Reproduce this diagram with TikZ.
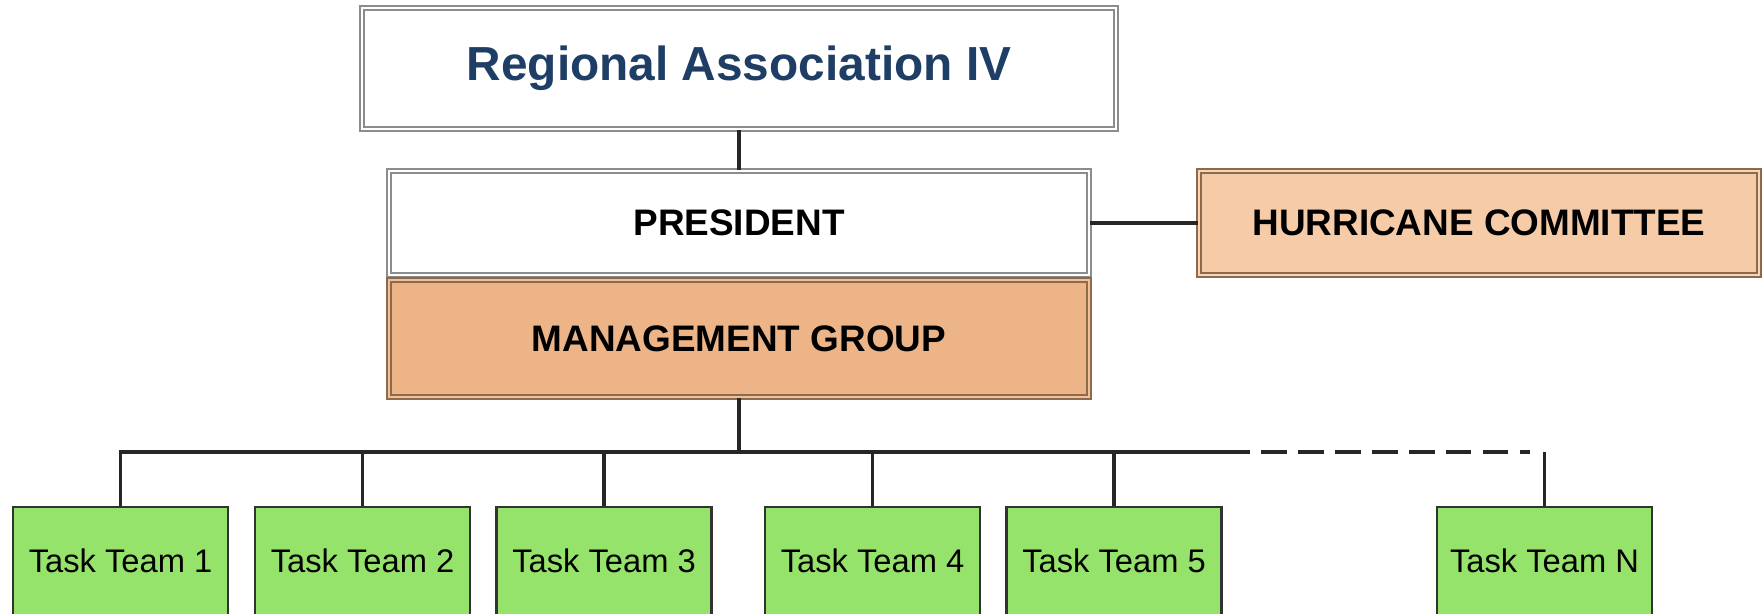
\documentclass[tikz,border=0pt]{standalone}
\usepackage{fontspec}
\setmainfont{Liberation Sans}
\definecolor{ratext}{HTML}{1F3E66}
\definecolor{greyline}{HTML}{8C8C8C}
\definecolor{brownline}{HTML}{8E6A4C}
\definecolor{mgfill}{HTML}{EDB587}
\definecolor{hcfill}{HTML}{F6CBA7}
\definecolor{ttfill}{HTML}{95E36B}

\begin{document}
\begin{tikzpicture}[
  dbl/.style={draw=#1, line width=1.1pt, double distance=1.5pt, inner sep=0pt},
  whitebox/.style={dbl=greyline, double=white, fill=white},
  mgbox/.style={dbl=brownline, double=mgfill!85, fill=mgfill},
  hcbox/.style={dbl=brownline, double=hcfill!80, fill=hcfill},
  ttbox/.style={draw=black!80, line width=1.3pt, fill=ttfill, minimum width=4.3cm,
    minimum height=2.16cm, inner sep=0pt, font=\fontsize{18.6}{20}\selectfont},
  link/.style={line width=1.8pt, black!85},
  caps/.style={font=\fontsize{21}{24}\selectfont\bfseries}
]
\useasboundingbox (0,0) rectangle (35.24,12.28);
% upper part of the chart
\node[whitebox, minimum width=15.08cm, minimum height=2.42cm, text=ratext,
  font=\fontsize{27.2}{30}\selectfont\bfseries] (ra) at (14.78,10.91) {Regional Association IV};
\node[whitebox, caps, minimum width=14cm, minimum height=2.08cm] (pres) at (14.78,7.82) {PRESIDENT};
\node[mgbox, caps, minimum width=14cm, minimum height=2.34cm] (mgmt) at (14.78,5.51) {MANAGEMENT GROUP};
\node[hcbox, caps, minimum width=11.2cm, minimum height=2.08cm] (hc) at (29.58,7.82) {HURRICANE COMMITTEE};
\draw[link] (ra) -- (pres);
\draw[link] (pres) -- (hc);

% task teams
\node[ttbox] (tt1) at (2.41,1.06) {Task Team 1};
\node[ttbox] (tt2) at (7.25,1.06) {Task Team 2};
\node[ttbox] (tt3) at (12.08,1.06) {Task Team 3};
\node[ttbox] (tt4) at (17.45,1.06) {Task Team 4};
\node[ttbox] (tt5) at (22.28,1.06) {Task Team 5};
\node[ttbox] (ttN) at (30.89,1.06) {Task Team N};
\coordinate (J) at (14.78,3.24);
\coordinate (D) at (25.0,3.24);
\draw[link] (mgmt) -- (J);
\draw[link] (tt1.north) |- (D);
\draw[link] (tt2.north) -- (tt2.north |- J);
\draw[link] (tt3.north) -- (tt3.north |- J);
\draw[link] (tt4.north) -- (tt4.north |- J);
\draw[link] (tt5.north) -- (tt5.north |- J);
\draw[link] (ttN.north) -- (ttN.north |- J);
\draw[link, dash pattern=on 14.5pt off 6.5pt, dash phase=14.5pt]
  (D) -- ([xshift=-0.3cm]ttN.north |- J);
\end{tikzpicture}
\end{document}
